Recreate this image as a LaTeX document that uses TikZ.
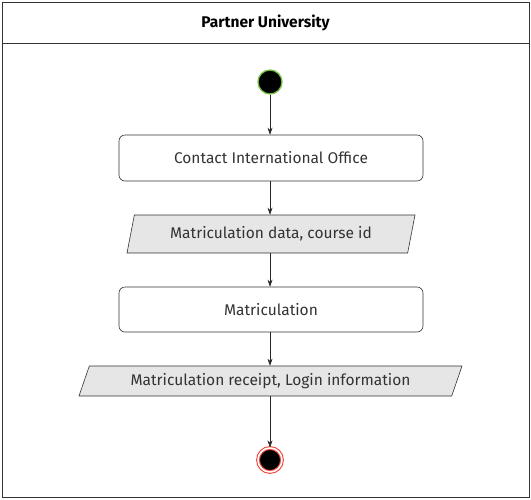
\documentclass[tikz,border=0pt]{standalone}
\usepackage{fontspec}
\setmainfont{Fira Sans}
\usetikzlibrary{shapes.geometric,arrows.meta,positioning}
\definecolor{startgreen}{HTML}{77C043}
\definecolor{endred}{HTML}{F04A3A}
\definecolor{datagray}{HTML}{E6E6E6}
\definecolor{textgray}{HTML}{333333}

\begin{document}
\begin{tikzpicture}
[
    x=1pt, y=-1pt,
    every node/.style={font=\fontsize{15.5}{18}\selectfont\color{textgray}},
    action/.style={draw=black!80, rounded corners=6pt, minimum width=304pt,
        minimum height=46pt, line width=0.6pt},
    dataobj/.style={draw=black!80, fill=datagray, trapezium, trapezium stretches body,
        trapezium left angle=71, trapezium right angle=109, line width=0.6pt},
    flow/.style={-{Stealth[length=7pt,width=5pt]}, line width=0.6pt, black!85},
]
\useasboundingbox (0,0) rectangle (531,499);
% lane
\draw[line width=0.7pt, black!80] (2,2) rectangle (529,497);
\draw[line width=0.7pt, black!80] (2,43) -- (529,43);
\node[font=\fontsize{15.5}{18}\selectfont\bfseries] (lane) at (265.5,23) {Partner University};

% nodes
\node[circle, fill=black, draw=startgreen, line width=1.3pt, minimum size=24pt] (start) at (270,82) {};
\node[action] (contact) at (271,158) {Contact International Office};
\node[dataobj, minimum width=288pt, minimum height=38pt] (matdata) at (271,234) {Matriculation data, course id};
\node[action, minimum height=45pt] (matric) at (271,309.5) {Matriculation};
\node[dataobj, minimum width=383pt, minimum height=30pt, trapezium left angle=65, trapezium right angle=115] (receipt) at (270.5,381) {Matriculation receipt, Login information};
\node[circle, fill=black, draw=endred, double=white, double distance=1.6pt, line width=1.1pt, minimum size=24pt] (end) at (270,460) {};

% flows
\draw[flow] (start) -- (start |- contact.north);
\draw[flow] (start |- contact.south) -- (start |- matdata.north);
\draw[flow] (start |- matdata.south) -- (start |- matric.north);
\draw[flow] (start |- matric.south) -- (start |- receipt.north);
\draw[flow] (start |- receipt.south) -- (end);
\end{tikzpicture}
\end{document}
